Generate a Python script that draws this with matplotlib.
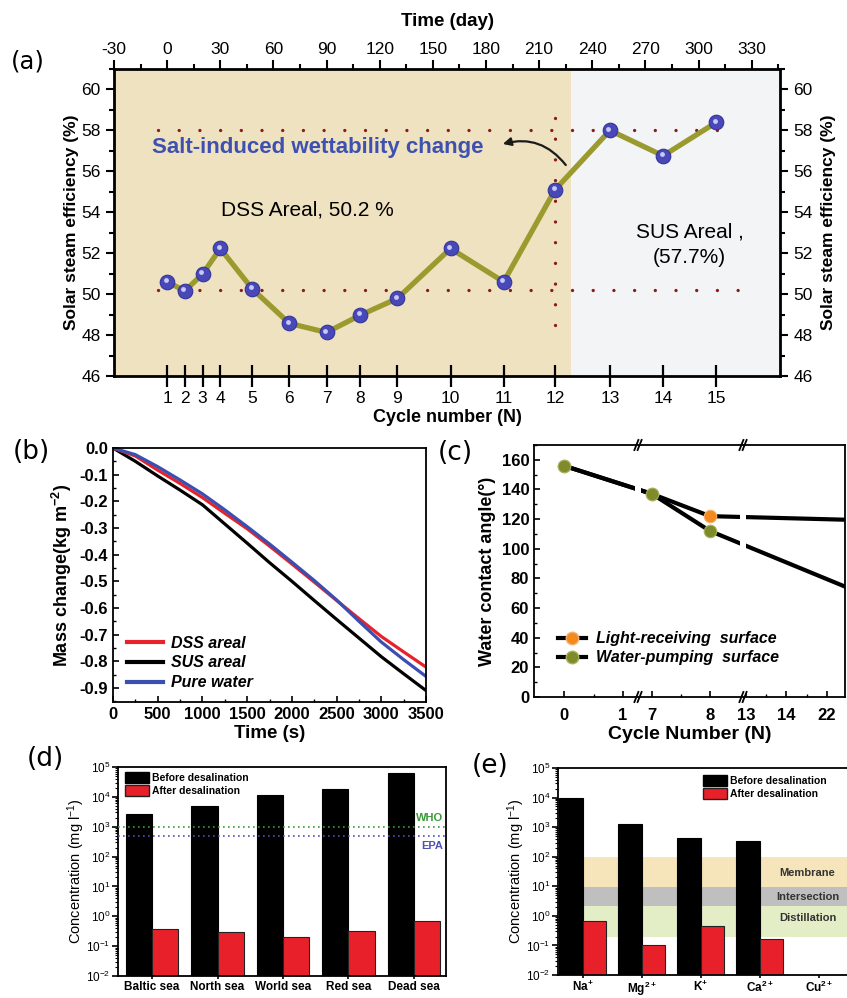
import numpy as np
import matplotlib
matplotlib.use("Agg")
import matplotlib.pyplot as plt
from matplotlib.ticker import MultipleLocator, FixedLocator, FuncFormatter, NullFormatter
from matplotlib.transforms import offset_copy, blended_transform_factory
from matplotlib.lines import Line2D
from matplotlib.patches import Patch

plt.rcParams['font.family'] = ['Liberation Sans', 'DejaVu Sans']
plt.rcParams['axes.unicode_minus'] = False
plt.rcParams['mathtext.fontset'] = 'custom'
plt.rcParams['mathtext.rm'] = 'Liberation Sans'
plt.rcParams['mathtext.bf'] = 'Liberation Sans:bold'
plt.rcParams['mathtext.it'] = 'Liberation Sans:italic'

# ---- (a) efficiency over cycles ----
cycle_no = list(range(1, 16))
cycle_day = [0, 10, 20, 30, 48, 69, 90, 109, 130, 160, 190, 219, 250, 280, 310]
efficiency = [50.6, 50.16, 50.98, 52.23, 50.26, 48.57, 48.13, 48.97, 49.79,
              52.23, 50.6, 55.1, 58.0, 56.76, 58.39]
dss_mean = 50.2
sus_mean = 58.0
switch_day = 228

# ---- (b) mass change ----
time_s = [0, 250, 500, 750, 1000, 1250, 1500, 1750, 2000, 2250, 2500, 2750, 3000, 3250, 3500]
mass_dss = [0, -0.03, -0.083, -0.133, -0.186, -0.245, -0.303, -0.368, -0.435, -0.503,
            -0.572, -0.64, -0.707, -0.765, -0.822]
mass_sus = [0, -0.05, -0.105, -0.158, -0.213, -0.285, -0.357, -0.43, -0.50, -0.572,
            -0.643, -0.713, -0.783, -0.847, -0.91]
mass_water = [0, -0.025, -0.07, -0.12, -0.172, -0.232, -0.295, -0.36, -0.428, -0.497,
              -0.57, -0.65, -0.728, -0.794, -0.857]

# ---- (c) contact angle ----
c_cycles = [0, 7, 8, 25.5]
angle_light = [156, 137, 122, 119.6]
angle_pump = [156, 137, 112, 74.5]
c_tick_cycles = [0, 1, 7, 8, 13, 14, 22]
c_tick_labels = ['0', '1', '7', '8', '13', '14', '22']

# ---- (d) seas ----
seas = ['Baltic sea', 'North sea', 'World sea', 'Red sea', 'Dead sea']
sea_before = [2700, 5100, 11700, 18000, 65000]
sea_after = [0.37, 0.30, 0.20, 0.33, 0.69]
who_limit = 1000
epa_limit = 500

# ---- (e) ions ----
ions = [r'Na$^{\mathbf{+}}$', r'Mg$^{\mathbf{2+}}$', r'K$^{\mathbf{+}}$',
        r'Ca$^{\mathbf{2+}}$', r'Cu$^{\mathbf{2+}}$']
ion_before = [9800, 1260, 420, 350, 0]
ion_after = [0.67, 0.10, 0.44, 0.166, 0]
bands = [('Membrane', 9.2, 100, '#f6e4ba', 28), ('Intersection', 2.2, 9.2, '#bfbfbf', 4.4),
         ('Distillation', 0.19, 2.2, '#e3edc6', 0.85)]

W, H = 847, 998


def box(l, t, r, b):
    return [l / W, 1 - b / H, (r - l) / W, (b - t) / H]


fig = plt.figure(figsize=(W / 100, H / 100), dpi=100)

# ================= (a) =================
ax = fig.add_axes(box(114, 69, 780, 376))
ax.set_xlim(-30, 346)
ax.set_ylim(46, 61)
ax.axvspan(-30, switch_day, color='#efe2c0', zorder=0, lw=0)
ax.axvspan(switch_day, 346, color='#f2f4f5', zorder=0, lw=0)
dot = dict(color='#8b1a1a', lw=2.4, ls=(0, (0.01, 6.2)), dash_capstyle='round', zorder=2)
ax.plot([-5, 330], [dss_mean, dss_mean], **dot)
ax.plot([-5, 320], [sus_mean, sus_mean], **dot)
ax.plot([cycle_day[11], cycle_day[11]], [48.5, 59.0], **dot)
ax.plot(cycle_day, efficiency, color='#9a9a2e', lw=3.8, marker='o', ms=10.5,
        mfc='#4848b8', mec='#34349a', mew=0.8, zorder=4)
hl = offset_copy(ax.transData, fig=fig, x=-1.5, y=1.8, units='dots')
ax.plot(cycle_day, efficiency, ls='none', marker='o', ms=3.5, mfc='#c8c8f5', mec='none',
        transform=hl, zorder=5)

ax.text(85, 57.15, 'Salt-induced wettability change', color='#3e50b0', fontsize=16,
        fontweight='bold', ha='center', va='center')
ax.annotate('', xy=(188, 57.3), xytext=(226, 56.2),
            arrowprops=dict(arrowstyle='-|>', color='#1a1a1a', lw=1.6,
                            connectionstyle='arc3,rad=0.35', mutation_scale=12))
ax.text(79, 54.1, 'DSS Areal, 50.2 %', fontsize=15, ha='center', va='center')
ax.text(295, 52.4, 'SUS Areal ,\n(57.7%)', fontsize=15, ha='center', va='center',
        linespacing=1.45)

ax.set_xticks(cycle_day)
ax.set_xticklabels(cycle_no)
ax.tick_params(axis='x', direction='inout', length=16, width=1.6, labelsize=12.5, pad=3)
ax.set_xlabel('Cycle number (N)', fontsize=13, fontweight='bold', labelpad=2)
ax.yaxis.set_major_locator(MultipleLocator(2))
ax.yaxis.set_minor_locator(MultipleLocator(1))
ax.tick_params(axis='y', which='major', direction='out', length=6, width=1.5, labelsize=12.5)
ax.tick_params(axis='y', which='minor', direction='out', length=3.5, width=1.5)
ax.set_ylabel('Solar steam efficiency (%)', fontsize=12.5, fontweight='bold', labelpad=2)
for s in ax.spines.values():
    s.set_linewidth(2)

top = ax.secondary_xaxis('top')
top.set_xticks(range(-30, 331, 30))
top.xaxis.set_minor_locator(MultipleLocator(15))
top.tick_params(which='major', direction='out', length=6.5, width=1.5, labelsize=12.5, pad=2)
top.tick_params(which='minor', direction='out', length=3.5, width=1.5)
top.set_xlabel('Time (day)', fontsize=13.5, fontweight='bold', labelpad=12)

right = ax.secondary_yaxis('right')
right.yaxis.set_major_locator(MultipleLocator(2))
right.yaxis.set_minor_locator(MultipleLocator(1))
right.tick_params(which='major', direction='out', length=6, width=1.5, labelsize=12.5)
right.tick_params(which='minor', direction='out', length=3.5, width=1.5)
right.set_ylabel('Solar steam efficiency (%)', fontsize=12.5, fontweight='bold',
                 rotation=90, labelpad=6)

# ================= (b) =================
axb = fig.add_axes(box(113, 448, 426, 702))
axb.plot(time_s, mass_sus, color='black', lw=2.3)
axb.plot(time_s, mass_dss, color='#e8222a', lw=2.3)
axb.plot(time_s, mass_water, color='#3a4fb0', lw=2.3)
axb.set_xlim(0, 3500)
axb.set_ylim(-0.953, 0.0)
axb.yaxis.set_major_locator(FixedLocator(np.round(np.arange(-0.9, 0.05, 0.1), 1)))
axb.yaxis.set_minor_locator(FixedLocator(np.round(np.arange(-0.95, 0.0, 0.1), 2)))
axb.yaxis.set_major_formatter(FuncFormatter(lambda v, p: f'{v:.1f}'.replace('-0.0', '0.0')))
axb.xaxis.set_major_locator(MultipleLocator(500))
axb.xaxis.set_minor_locator(MultipleLocator(250))
axb.tick_params(which='major', direction='in', length=4, width=1.2, labelsize=12)
axb.tick_params(which='minor', direction='in', length=2, width=1.0)
for lab in axb.get_xticklabels() + axb.get_yticklabels():
    lab.set_fontweight('bold')
axb.set_xlabel('Time (s)', fontsize=13.5, fontweight='bold', labelpad=2)
axb.set_ylabel(r'Mass change(kg m$^{\mathbf{-2}}$)', fontsize=13, fontweight='bold', labelpad=4)
for s in axb.spines.values():
    s.set_linewidth(1.3)
hb = [Line2D([], [], color='#e8222a', lw=3), Line2D([], [], color='black', lw=3),
      Line2D([], [], color='#3a4fb0', lw=3)]
axb.legend(hb, ['DSS areal', 'SUS areal', 'Pure water'], loc='lower left',
           bbox_to_anchor=(0.0, -0.01), frameon=False, handlelength=2.2, handletextpad=0.5,
           labelspacing=0.3, prop=dict(weight='bold', style='italic', size=11.5))

# ================= (c) =================
axc = fig.add_axes(box(534, 445, 845, 697))
c_tick_pos = [30, 89, 118, 176, 212, 252, 293]


def cpos(c):
    c = np.asarray(c, dtype=float)
    p = np.interp(c, c_tick_cycles, c_tick_pos)
    ext = c > c_tick_cycles[-1]
    slope = (c_tick_pos[-1] - c_tick_pos[-2]) / (c_tick_cycles[-1] - c_tick_cycles[-2])
    p[ext] = c_tick_pos[-1] + (c[ext] - c_tick_cycles[-1]) * slope
    return p


axc.set_xlim(0, 311)
axc.set_ylim(0, 170)
axc.plot(cpos(c_cycles), angle_light, color='black', lw=3, marker='o', ms=9,
         markevery=[0, 1, 2], mfc='#f28a1e', mec='#f5b070', mew=0.8, zorder=2)
axc.plot(cpos(c_cycles), angle_pump, color='black', lw=3, marker='o', ms=9,
         markevery=[0, 1, 2], mfc='#7f8a2a', mec='#a8b060', mew=0.8, zorder=2.1)
for g0, g1 in [(101, 107), (206, 212)]:
    axc.axvspan(g0, g1, ymin=0.005, ymax=0.995, color='white', zorder=2.2, lw=0)
bt = blended_transform_factory(axc.transData, axc.transAxes)
for bx in [104, 209]:
    for yb in [0, 1]:
        for k in [-1.6, 1.6]:
            axc.plot([bx + k - 2, bx + k + 2], [yb - 0.02, yb + 0.02], color='black',
                     lw=1.3, transform=bt, clip_on=False, zorder=5)
axc.set_xticks(c_tick_pos)
axc.set_xticklabels(c_tick_labels)
axc.xaxis.set_minor_locator(FixedLocator([59.5, 147, 232, 272.5]))
axc.yaxis.set_major_locator(MultipleLocator(20))
axc.yaxis.set_minor_locator(MultipleLocator(10))
axc.tick_params(which='major', direction='in', length=4, width=1.2, labelsize=12)
axc.tick_params(axis='x', which='major', pad=8)
axc.tick_params(which='minor', direction='in', length=2, width=1.0)
for lab in axc.get_xticklabels() + axc.get_yticklabels():
    lab.set_fontweight('bold')
axc.set_xlabel('Cycle Number (N)', fontsize=14, fontweight='bold', labelpad=2)
axc.set_ylabel('Water contact angle(°)', fontsize=13, fontweight='bold', labelpad=4)
for s in axc.spines.values():
    s.set_linewidth(1.3)
hc = [Line2D([], [], color='black', lw=3, marker='o', ms=9, mfc='#f28a1e', mec='#f5b070'),
      Line2D([], [], color='black', lw=3, marker='o', ms=9, mfc='#7f8a2a', mec='#a8b060')]
axc.legend(hc, ['Light-receiving  surface', 'Water-pumping  surface'], loc='lower left',
           bbox_to_anchor=(0.03, 0.068), frameon=False, handlelength=1.8, handletextpad=0.6,
           labelspacing=0.25, prop=dict(weight='bold', style='italic', size=11.5))


# ================= (d) & (e) =================
def bar_panel(a, labels, before, after):
    x = np.arange(len(labels))
    b = np.array(before, dtype=float)
    f = np.array(after, dtype=float)
    a.bar(x[b > 0] - 0.2, b[b > 0], 0.4, color='black', edgecolor='black', lw=0.8, zorder=2)
    a.bar(x[f > 0] + 0.2, f[f > 0], 0.4, color='#e8202a', edgecolor='#222222', lw=0.8, zorder=2)
    a.set_yscale('log')
    a.set_ylim(1e-2, 1e5)
    a.set_xticks(x)
    a.set_xticklabels(labels)
    a.yaxis.set_major_locator(FixedLocator(10.0 ** np.arange(-2, 6)))
    minor = [m * 10.0 ** e for e in range(-2, 5) for m in range(2, 10)]
    a.yaxis.set_minor_locator(FixedLocator(minor))
    a.yaxis.set_minor_formatter(NullFormatter())
    a.tick_params(axis='y', which='major', direction='out', length=4, width=1.2,
                  labelsize=8.5, pad=1.5)
    a.tick_params(axis='y', which='minor', direction='out', length=2, width=0.8)
    a.tick_params(axis='x', direction='out', length=2.5, width=1.2, labelsize=8.5, pad=1)
    for lab in a.get_xticklabels():
        lab.set_fontweight('bold')
    a.set_ylabel(r'Concentration (mg l$^{-1}$)', fontsize=10.5, labelpad=-1)
    for s in a.spines.values():
        s.set_linewidth(1.3)
    h = [Patch(facecolor='black', edgecolor='black'),
         Patch(facecolor='#e8202a', edgecolor='#222222')]
    return h


axd = fig.add_axes(box(118, 767, 446, 976))
hd = bar_panel(axd, seas, sea_before, sea_after)
axd.set_xlim(-0.52, 4.49)
axd.axhline(who_limit, color='#3a9a3a', ls=(0, (1, 2)), lw=1.2, zorder=3)
axd.axhline(epa_limit, color='#5050b0', ls=(0, (1, 2)), lw=1.2, zorder=3)
axd.text(4.45, who_limit * 1.35, 'WHO', color='#3a9a3a', fontsize=8, fontweight='bold',
         ha='right', va='bottom')
axd.text(4.45, epa_limit / 1.45, 'EPA', color='#5050b0', fontsize=8, fontweight='bold',
         ha='right', va='top')
axd.legend(hd, ['Before desalination', 'After desalination'], loc='upper left',
           bbox_to_anchor=(0.0, 1.01), frameon=False, handlelength=2.3, handleheight=1.2,
           handletextpad=0.3, labelspacing=0.2, borderaxespad=0.3,
           prop=dict(weight='bold', size=7.5))

axe = fig.add_axes(box(558, 768, 870, 975))
he = bar_panel(axe, ions, ion_before, ion_after)
axe.set_xlim(-0.42, 4.87)
for name, lo, hi, col, ty in bands:
    axe.axhspan(lo, hi, color=col, zorder=0, lw=0)
    axe.text(3.81, ty, name, fontsize=8, fontweight='bold', color='#333333',
             ha='center', va='center', zorder=1)
axe.legend(he, ['Before desalination', 'After desalination'], loc='upper left',
           bbox_to_anchor=(0.44, 1.0), frameon=False, handlelength=2.3, handleheight=1.2,
           handletextpad=0.3, labelspacing=0.2, borderaxespad=0.3,
           prop=dict(weight='bold', size=7.5))

# panel letters
for t, x, y, fs in [('(a)', 28, 61, 17.5), ('(b)', 31, 452, 19), ('(c)', 455, 453, 19),
                    ('(d)', 45, 759, 19), ('(e)', 490, 766, 19)]:
    fig.text(x / W, 1 - y / H, t, fontsize=fs, ha='center', va='center', family='DejaVu Sans')

fig.savefig('out.png', dpi=100)
